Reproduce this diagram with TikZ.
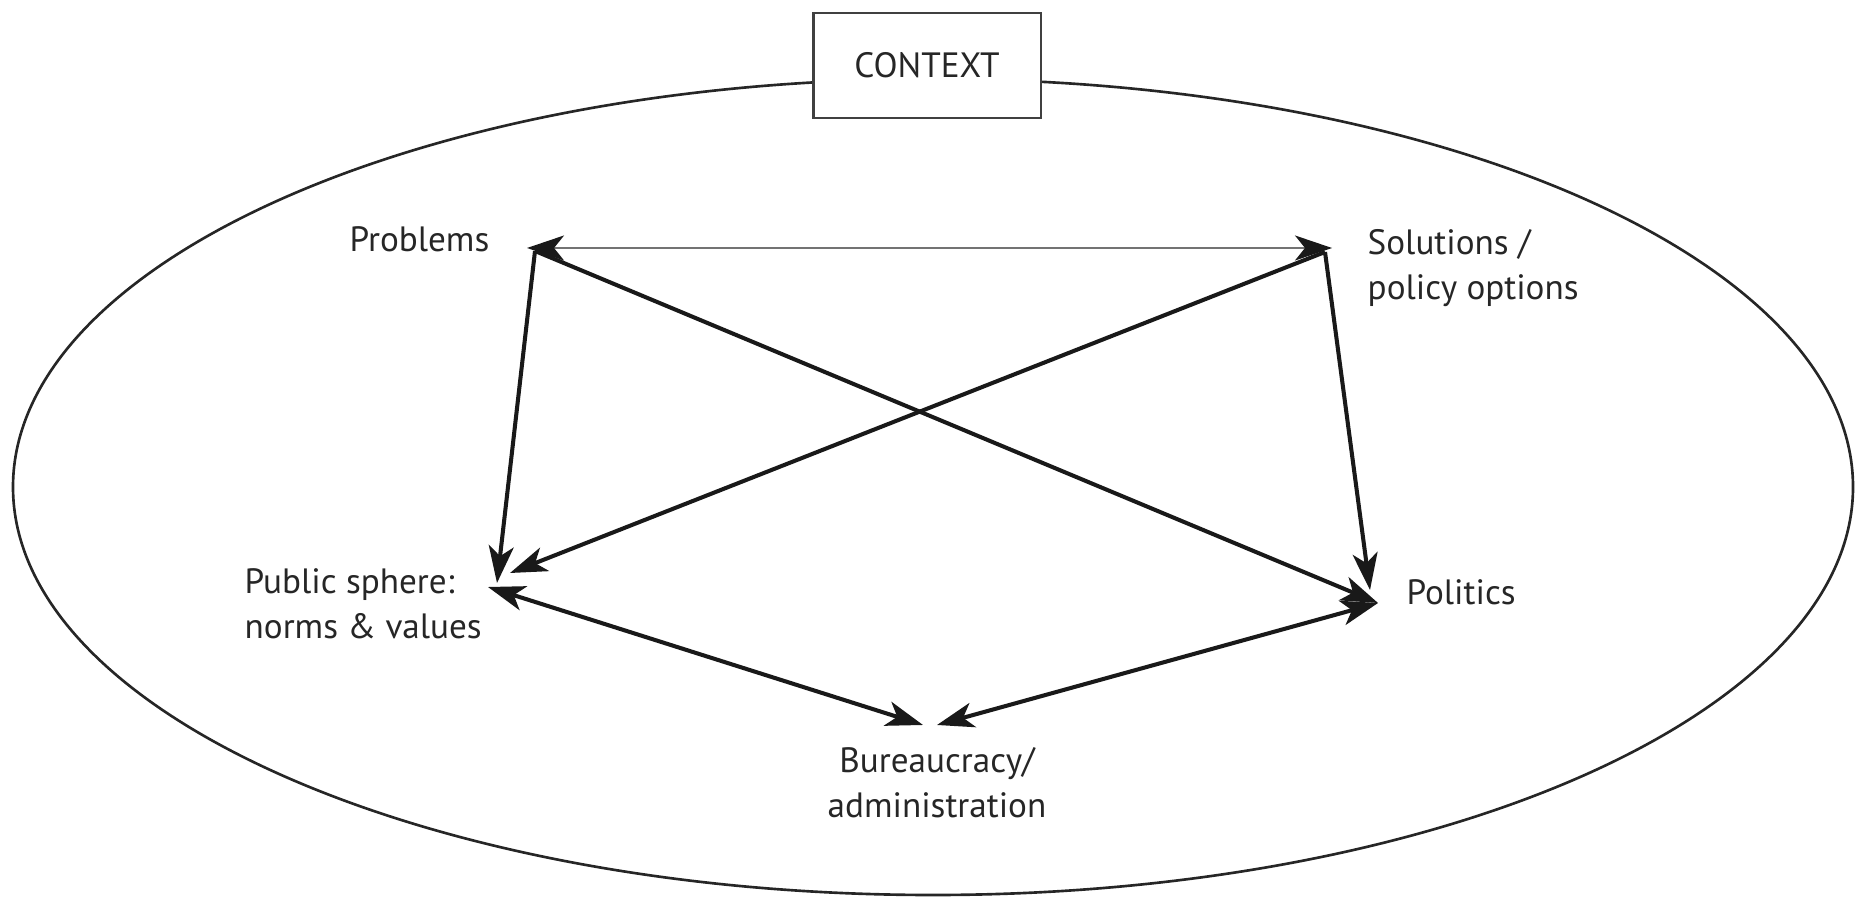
\documentclass[tikz,border=0pt]{standalone}
\usepackage{fontspec}
\setmainfont{PT Sans}
\usetikzlibrary{arrows.meta}
\begin{document}
\begin{tikzpicture}[x=0.01cm,y=-0.01cm,
  >={Stealth[length=0.37cm,width=0.25cm,inset=0.1cm]},
  lbl/.style={font=\fontsize{10}{12.8}\selectfont, text=black!85, inner sep=0pt, align=left},
  link/.style={line width=1.15pt, black!90},
  thinlink/.style={line width=0.6pt, black!55}]
\useasboundingbox (0,0) rectangle (1864,907);
% ellipse
\draw[line width=0.75pt, black!85] (933,487) ellipse [x radius=920, y radius=408];
% context box
\node[draw=black!75, line width=0.6pt, fill=white, minimum width=2.27cm, minimum height=1.05cm,
      font=\fontsize{10}{12.8}\selectfont, text=black!85] (ctx) at (927,65.5) {CONTEXT};
% labels
\node[lbl, anchor=base east] (prob) at (490,252) {Problems};
\node[lbl, anchor=north west] (sol) at (1367,229) {Solutions /\\policy options};
\node[lbl, anchor=north west] (pub) at (244,568) {Public sphere:\\norms \& values};
\node[lbl, anchor=west] (pol) at (1406,592) {Politics};
\node[lbl, anchor=north, align=center] (bur) at (937,747) {Bureaucracy/\\administration};
% junction points
\coordinate (P) at (527,248);
\coordinate (Pa) at (535,251);
\coordinate (S) at (1332,248);
\coordinate (Sa) at (1325,252);
\coordinate (PSa) at (497,583);
\coordinate (PSb) at (510,573);
\coordinate (PSc) at (488,587);
\coordinate (POa) at (1370,590);
\coordinate (POb) at (1378,603);
\coordinate (Ba) at (923,725);
\coordinate (Bb) at (937,725);
% connectors
\draw[thinlink, {Stealth[length=0.37cm,width=0.25cm,inset=0.1cm,color=black!90]}-{Stealth[length=0.37cm,width=0.25cm,inset=0.1cm,color=black!90]}] (P) -- (S);
\draw[link, ->] (Pa) -- (PSa);
\draw[link, ->] (Pa) -- (POb);
\draw[link, ->] (Sa) -- (PSb);
\draw[link, ->] (Sa) -- (POa);
\draw[link, <->] (PSc) -- (Ba);
\draw[link, <->] (POb) -- (Bb);
\end{tikzpicture}
\end{document}
